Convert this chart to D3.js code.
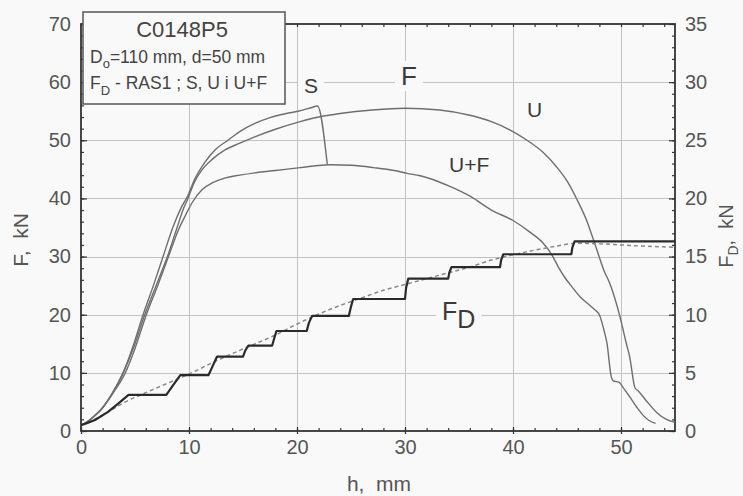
<!DOCTYPE html>
<html><head><meta charset="utf-8">
<script src="https://cdn.jsdelivr.net/npm/d3@7"></script>
<style>
html,body{margin:0;padding:0;background:#f9f9f9;}
svg{display:block;font-family:"Liberation Sans",Arial,sans-serif;}
</style></head>
<body>
<svg id="chart" width="743" height="496"></svg>
<script>
// ---------- data ----------
const xTicks = [0, 10, 20, 30, 40, 50];
const yTicks = [0, 10, 20, 30, 40, 50, 60, 70];
const y2Ticks = [0, 5, 10, 15, 20, 25, 30, 35];

// curve S : h (mm), F (kN)
const sH = [0,0.5,1,2,3,3.9,4.8,5.75,6.7,7.6,8.5,9.3,9.9,10.5,11.5,12.5,13.6,14.7,16.1,17.5,19,20.1,21.3,21.9,22.8];
const sF = [1.0,1.5,2.2,4.0,6.8,10,14.5,20,25,30,35,38.5,40.5,43.2,46.3,48.5,50.0,51.5,52.9,53.9,54.6,55.0,55.6,55.9,45.9];

// curve U
const uH = [0,0.5,1,2,3,3.9,4.9,5.9,6.95,8.0,8.9,9.5,9.9,10.5,11.2,12.2,13.3,14.7,16.1,18,20.3,22,24,27,30,33.2,36,38,39.7,41.3,42.8,44,45,45.9,46.8,47.7,48.4,49,49.9,50.5,50.8,51.3,51.6,52.3,53.3,54.2,55];
const uF = [1.0,1.5,2.2,4.0,6.8,10,14.5,20,25,30,35,38.3,40,42.8,44.9,46.8,48.3,49.5,50.6,51.9,53.2,54,54.6,55.2,55.5,55.2,54.3,53.2,51.8,50.0,47.9,45.5,43,39.9,36.3,31.5,27.7,25.2,19.7,15,12.8,7.4,6.9,5.3,3.2,2.0,1.5];

// curve U+F
const ufH = [0,0.5,1,2,3,4.1,5,6.05,7.1,8.1,9.0,9.7,10.3,11.2,12.2,13.3,14.7,16.1,18,20.3,23.1,25,27.1,29,30.2,31.4,32.5,34,36.1,38,40,41.5,42.8,43.6,44.2,44.8,45.5,46.2,47,47.6,48.0,48.4,48.7,49.1,49.3,49.8,50.3,50.8,51.5,52.1,52.6,53.2];
const ufF = [1.0,1.5,2.2,4.0,6.6,10,14.2,20,25,30,34.5,37.2,39.3,41.5,42.7,43.5,44.0,44.4,44.8,45.3,45.8,45.7,45.3,44.8,44.3,43.9,43.3,42.2,40.3,38,36.2,34.3,32.3,30.3,28.2,26.4,24.7,23.1,21.8,20.8,20.0,17.5,15.1,9.3,8.6,8.4,7.2,5.9,4.0,2.6,1.8,1.3];

// F_D (RAS1) measured, stepped : h (mm), F_D (kN, right axis)
const fdH = [0,0.6,1.3,2.5,3.5,4.4,7.9,8.5,9.2,11.8,12.2,12.6,15.0,15.2,15.5,17.7,17.9,18.1,20.9,21.1,21.4,24.8,25.0,25.2,30.0,30.1,30.3,34.0,34.1,34.3,38.8,38.9,39.1,45.4,45.5,45.7,55];
const fdV = [0.5,0.7,0.95,1.65,2.4,3.1,3.1,3.9,4.8,4.8,5.6,6.4,6.4,6.9,7.35,7.35,8.0,8.6,8.6,9.3,9.9,9.9,10.7,11.35,11.35,12.3,13.1,13.1,13.6,14.1,14.1,14.7,15.2,15.2,15.8,16.3,16.3];

// F_D approximation (dashed)
const fdFitH = [0,2,4,6,8,10,12,14,16,18,20,22,24,26,28,30,32,34,36,38,40,42,44,46,48,50,52,55];
const fdFitV = [0.5,1.35,2.45,3.3,4.1,4.9,5.8,6.65,7.45,8.25,9.2,10.05,10.8,11.45,12.1,12.6,13.1,13.6,14.1,14.7,15.15,15.55,15.9,16.15,16.1,16.0,15.9,15.8];

// ---------- layout ----------
const svg = d3.select("#chart");
const BG = "#f9f9f9";
svg.append("rect").attr("width",743).attr("height",496).attr("fill",BG);

const x = d3.scaleLinear().domain([0,55]).range([81,675]);
const y = d3.scaleLinear().domain([0,70]).range([431,24]);
const y2 = d3.scaleLinear().domain([0,35]).range([431,24]);

const textColor = "#555";
const gridColor = "#c2c2c2";

// grid (light lines at the major ticks)
const gridG = svg.append("g");
gridG.selectAll("path.gx").data(xTicks.slice(1)).join("path").attr("class","gx")
  .attr("d",v=>`M${Math.round(x(v))+0.5},${y(0)}V${y(70)}`)
  .attr("stroke",gridColor).attr("stroke-width",1).attr("fill","none");
gridG.selectAll("path.gy").data(yTicks.slice(1,-1)).join("path").attr("class","gy")
  .attr("d",v=>`M${x(0)},${Math.round(y(v))+0.5}H${x(55)}`)
  .attr("stroke",gridColor).attr("stroke-width",1).attr("fill","none");

// axes with d3 axis generators (ticks inward)
const axCol = "#333";
function styleAxis(g){
  g.select(".domain").remove();
  g.selectAll(".tick line").attr("stroke",axCol).attr("stroke-width",1.2);
  g.selectAll(".tick text").attr("fill",textColor).attr("font-size",20);
}
const xMinor = d3.range(0,56,2);
const yMinor = d3.range(0,71,2);
const y2Minor = d3.range(0,36,1);
svg.append("g").attr("transform",`translate(0,${y(0)})`)
  .call(d3.axisBottom(x).tickValues(xMinor).tickSize(-3).tickFormat(""))
  .call(styleAxis);
svg.append("g").attr("transform",`translate(0,${y(70)})`)
  .call(d3.axisTop(x).tickValues(xMinor).tickSize(-3).tickFormat(""))
  .call(styleAxis);
svg.append("g").attr("transform",`translate(${x(0)},0)`)
  .call(d3.axisLeft(y).tickValues(yMinor).tickSize(-3).tickFormat(""))
  .call(styleAxis);
svg.append("g").attr("transform",`translate(${x(55)},0)`)
  .call(d3.axisRight(y2).tickValues(y2Minor).tickSize(-3).tickFormat(""))
  .call(styleAxis);
svg.append("g").attr("transform",`translate(0,${y(0)})`)
  .call(d3.axisBottom(x).tickValues(xTicks).tickSize(3).tickPadding(6).tickFormat(d3.format("d")))
  .call(styleAxis)
  .call(g=>g.selectAll(".tick line").attr("y1",-4));
svg.append("g").attr("transform",`translate(${x(0)},0)`)
  .call(d3.axisLeft(y).tickValues(yTicks).tickSize(-6).tickPadding(10).tickFormat(d3.format("d")))
  .call(styleAxis);
svg.append("g").attr("transform",`translate(${x(55)},0)`)
  .call(d3.axisRight(y2).tickValues(y2Ticks).tickSize(-6).tickPadding(10).tickFormat(d3.format("d")))
  .call(styleAxis);

// frame
svg.append("rect").attr("x",x(0)).attr("y",y(70)).attr("width",x(55)-x(0)).attr("height",y(0)-y(70))
  .attr("fill","none").attr("stroke",axCol).attr("stroke-width",1.8);

// curves
const zip = (a,b)=>a.map((v,i)=>[v,b[i]]);
const lineL = d3.line().x(d=>x(d[0])).y(d=>y(d[1])).curve(d3.curveMonotoneX);
const lineR = d3.line().x(d=>x(d[0])).y(d=>y2(d[1])).curve(d3.curveMonotoneX);
const lineRlin = d3.line().x(d=>x(d[0])).y(d=>y2(d[1]));
const curveCol = "#6e6e6e";
[[sH,sF],[uH,uF],[ufH,ufF]].forEach(([h,f])=>{
  svg.append("path").attr("d",lineL(zip(h,f))).attr("fill","none")
    .attr("stroke",curveCol).attr("stroke-width",1.4).attr("stroke-linejoin","round");
});
svg.append("path").attr("d",lineR(zip(fdFitH,fdFitV))).attr("fill","none")
  .attr("stroke","#888").attr("stroke-width",1.5).attr("stroke-dasharray","4,3");
svg.append("path").attr("d",lineRlin(zip(fdH,fdV))).attr("fill","none")
  .attr("stroke","#2a2a2a").attr("stroke-width",2.2).attr("stroke-linejoin","round");

// labels on plot with background masks
function label(parts, lx, ly, size){
  const g = svg.append("g");
  const t = g.append("text").attr("x",lx).attr("y",ly).attr("fill","#3a3a3a").attr("font-size",size);
  parts.forEach(p=>{
    const ts = t.append("tspan").text(p.t);
    if(p.dy) ts.attr("dy",p.dy);
  });
  const bb = t.node().getBBox();
  g.insert("rect","text").attr("x",bb.x-6).attr("y",bb.y).attr("width",bb.width+12).attr("height",bb.height).attr("fill",BG);
}
label([{t:"S"}], 304, 93, 21);
label([{t:"F"}], 401, 85, 26);
label([{t:"U"}], 527, 117, 21);
label([{t:"U+F"}], 449, 172, 21);
label([{t:"F"},{t:"D",dy:8}], 442, 320, 25);

// legend box
const lg = svg.append("g");
lg.append("rect").attr("x",83).attr("y",12).attr("width",202).attr("height",92)
  .attr("fill",BG).attr("stroke","#555").attr("stroke-width",1.5);
lg.append("text").attr("x",182).attr("y",37).attr("text-anchor","middle").attr("font-size",22)
  .attr("fill","#444").text("C0148P5");
const l2 = lg.append("text").attr("x",90).attr("y",63).attr("font-size",17.5).attr("fill","#444");
l2.append("tspan").text("D");
l2.append("tspan").attr("dy",5).attr("font-size",13).text("o");
l2.append("tspan").attr("dy",-5).text("=110 mm, d=50 mm");
const l3 = lg.append("text").attr("x",90).attr("y",89).attr("font-size",17.5).attr("fill","#444");
l3.append("tspan").text("F");
l3.append("tspan").attr("dy",6).attr("font-size",13).text("D");
l3.append("tspan").attr("dy",-6).text(" - RAS1 ; S, U i U+F");

// axis titles
svg.append("text").attr("x",379).attr("y",491).attr("text-anchor","middle").attr("font-size",21)
  .attr("fill",textColor).attr("xml:space","preserve").text("h,  mm");
svg.append("text").attr("transform","translate(28,240) rotate(-90)").attr("text-anchor","middle")
  .attr("font-size",21).attr("fill",textColor).attr("xml:space","preserve").text("F,  kN");
const rt = svg.append("text").attr("transform","translate(733,236) rotate(-90)").attr("text-anchor","middle")
  .attr("font-size",20).attr("fill",textColor).attr("xml:space","preserve");
rt.append("tspan").text("F");
rt.append("tspan").attr("dy",5).attr("font-size",14).text("D");
rt.append("tspan").attr("dy",-5).text(",  kN");
</script>
</body></html>
